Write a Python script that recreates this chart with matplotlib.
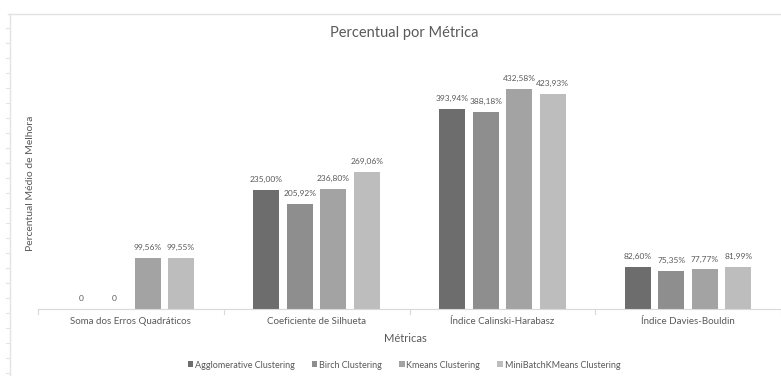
import matplotlib.pyplot as plt
import numpy as np
from matplotlib.lines import Line2D

plt.rcParams['font.family'] = ['Lato', 'DejaVu Sans']

# dados do gráfico
metricas = ['Soma dos Erros Quadráticos', 'Coeficiente de Silhueta',
            'Índice Calinski-Harabasz', 'Índice Davies-Bouldin']
modelos = ['Agglomerative Clustering', 'Birch Clustering',
           'Kmeans Clustering', 'MiniBatchKMeans Clustering']
agglomerative = [0, 235.00, 393.94, 82.60]
birch = [0, 205.92, 388.18, 75.35]
kmeans = [99.56, 236.80, 432.58, 77.77]
minibatch = [99.55, 269.06, 423.93, 81.99]
series = [agglomerative, birch, kmeans, minibatch]
cores = ['#6d6d6d', '#8e8e8e', '#a3a3a3', '#bdbdbd']

txt = '#595959'

fig = plt.figure(figsize=(7.81, 3.76), dpi=100)
ax = fig.add_axes([38 / 781, 1 - 309 / 376, 1 - 38 / 781, 228.6 / 376])

x = np.arange(len(metricas))
largura = 0.14
passo = 0.18
for i, (vals, cor, nome) in enumerate(zip(series, cores, modelos)):
    pos = x + (i - 1.5) * passo
    ax.bar(pos, vals, largura, color=cor, label=nome, zorder=2)
    for p, v in zip(pos, vals):
        rotulo = '0' if v == 0 else f'{v:.2f}%'.replace('.', ',')
        ax.annotate(rotulo, (p, v), xytext=(0, 5), textcoords='offset points',
                    ha='center', va='bottom', fontsize=6, color=txt)

ax.set_xlim(-0.5, 3.5)
ax.set_ylim(0, 450)
ax.set_yticks([])
for s in ['top', 'right', 'left']:
    ax.spines[s].set_visible(False)
ax.spines['bottom'].set_color('#d9d9d9')
ax.set_xticks(x)
ax.set_xticklabels(metricas, fontsize=7, color=txt)
ax.tick_params(axis='x', length=0, pad=6)
# marcas de separação entre categorias
for b in np.arange(-0.5, 3.6, 1.0):
    ax.plot([b, b], [0, -9], color='#d9d9d9', lw=0.8, clip_on=False)

fig.text(405 / 781, 1 - 338 / 376, 'Métricas', ha='center', va='center',
         fontsize=8, color=txt)
fig.text(31 / 781, 1 - 183 / 376, 'Percentual Médio de Melhora', rotation=90,
         ha='center', va='center', fontsize=7.5, color=txt)
fig.text(404 / 781, 1 - 33 / 376, 'Percentual por Métrica', ha='center',
         va='center', fontsize=10.5, color=txt)

leg = fig.legend(loc='center', bbox_to_anchor=(404 / 781, 1 - 365 / 376),
                 ncol=4, frameon=False, fontsize=6.5, handlelength=0.6,
                 handleheight=0.6, handletextpad=0.2, columnspacing=1.9)
for t in leg.get_texts():
    t.set_color(txt)

# bordas da planilha
fig.add_artist(Line2D([8 / 781, 1], [1 - 14 / 376] * 2, color='#e3e3e3', lw=1))
fig.add_artist(Line2D([10 / 781] * 2, [0, 1 - 14 / 376], color='#e3e3e3', lw=1))
for yy in np.arange(28, 376, 15):
    fig.add_artist(Line2D([6 / 781, 10 / 781], [1 - yy / 376] * 2,
                          color='#e3e3e3', lw=0.8))

fig.savefig('out.png', dpi=100)
